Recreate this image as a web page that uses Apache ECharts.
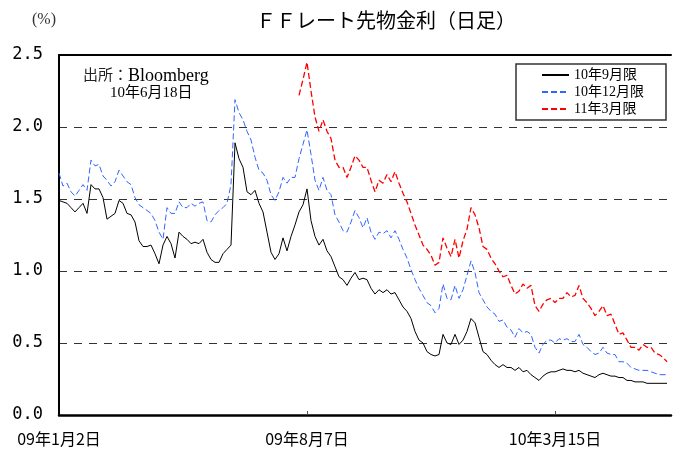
<!DOCTYPE html>
<html>
<head>
<meta charset="utf-8">
<script src="https://cdn.jsdelivr.net/npm/echarts/dist/echarts.min.js"></script>
<style>
  html, body { margin: 0; padding: 0; background: #fff; }
  #chart { width: 673px; height: 449px; }
</style>
</head>
<body>
<div id="chart"></div>
<script>
// x axis: one point every ~2.5 business days, 2009-01-02 .. 2010-06-18
const xTickLabels = ['09年1月2日', '09年8月7日', '10年3月15日'];
const xTickIndex = [0, 62, 124];
const axisLength = 154;
const seriesNames = ['10年9月限', '10年12月限', '11年3月限'];

const sep10 = [
  1.49, 1.48, 1.47, 1.44, 1.41, 1.44, 1.47, 1.40, 1.60, 1.57,
  1.57, 1.51, 1.36, 1.38, 1.40, 1.49, 1.47, 1.40, 1.39, 1.34,
  1.21, 1.17, 1.17, 1.18, 1.12, 1.05, 1.18, 1.24, 1.19, 1.09,
  1.27, 1.24, 1.22, 1.19, 1.20, 1.19, 1.22, 1.13, 1.08, 1.06,
  1.06, 1.12, 1.15, 1.18, 1.89, 1.78, 1.72, 1.55, 1.53, 1.56,
  1.47, 1.41, 1.27, 1.13, 1.08, 1.12, 1.23, 1.14, 1.24, 1.32,
  1.41, 1.46, 1.57, 1.35, 1.24, 1.18, 1.22, 1.14, 1.10, 1.03,
  0.96, 0.94, 0.90, 0.95, 0.99, 0.94, 0.95, 0.94, 0.88, 0.84,
  0.87, 0.85, 0.87, 0.84, 0.85, 0.80, 0.75, 0.72, 0.67, 0.58,
  0.52, 0.50, 0.44, 0.42, 0.41, 0.42, 0.56, 0.50, 0.49, 0.56,
  0.49, 0.52, 0.58, 0.67, 0.64, 0.54, 0.44, 0.42, 0.38, 0.35,
  0.33, 0.35, 0.33, 0.33, 0.31, 0.33, 0.30, 0.31, 0.28, 0.26,
  0.24, 0.27, 0.29, 0.30, 0.30, 0.31, 0.32, 0.31, 0.31, 0.30,
  0.31, 0.29, 0.28, 0.27, 0.26, 0.28, 0.29, 0.28, 0.27, 0.27,
  0.26, 0.26, 0.24, 0.24, 0.23, 0.23, 0.23, 0.22, 0.22, 0.22,
  0.22, 0.22, 0.22
];

const dec10 = [
  1.68, 1.59, 1.61, 1.55, 1.52, 1.56, 1.60, 1.56, 1.77, 1.73,
  1.74, 1.66, 1.63, 1.59, 1.62, 1.70, 1.66, 1.62, 1.60, 1.51,
  1.46, 1.44, 1.42, 1.40, 1.35, 1.27, 1.22, 1.44, 1.40, 1.40,
  1.48, 1.44, 1.44, 1.47, 1.45, 1.47, 1.48, 1.35, 1.34, 1.39,
  1.42, 1.44, 1.47, 1.60, 2.19, 2.10, 2.05, 1.97, 1.91, 1.79,
  1.70, 1.68, 1.63, 1.53, 1.49, 1.55, 1.65, 1.61, 1.65, 1.65,
  1.78, 1.88, 1.98, 1.81, 1.63, 1.56, 1.65, 1.56, 1.53, 1.39,
  1.34, 1.28, 1.27, 1.34, 1.42, 1.37, 1.30, 1.37, 1.27, 1.22,
  1.27, 1.26, 1.28, 1.23, 1.28, 1.22, 1.15, 1.09, 1.01, 0.94,
  0.88, 0.83, 0.78, 0.76, 0.71, 0.74, 0.91, 0.81, 0.80, 0.90,
  0.81, 0.87, 0.97, 1.07, 0.99, 0.85, 0.80, 0.75, 0.72, 0.70,
  0.65, 0.66, 0.61, 0.59, 0.54, 0.60, 0.57, 0.58, 0.56, 0.47,
  0.43, 0.49, 0.52, 0.52, 0.50, 0.53, 0.52, 0.53, 0.51, 0.51,
  0.56, 0.49, 0.47, 0.44, 0.42, 0.43, 0.47, 0.43, 0.42, 0.42,
  0.37, 0.37, 0.36, 0.33, 0.32, 0.31, 0.31, 0.31, 0.30, 0.29,
  0.28, 0.28, 0.28
];

// 11年3月限 only starts trading in August 2009
const mar11Start = 60;
const mar11 = [
  2.22, 2.33, 2.45, 2.25, 2.07, 1.97, 2.05, 1.97, 1.92, 1.77,
  1.72, 1.72, 1.65, 1.72, 1.80, 1.77, 1.72, 1.72, 1.63, 1.55,
  1.63, 1.61, 1.67, 1.62, 1.69, 1.61, 1.54, 1.48, 1.40, 1.32,
  1.25, 1.18, 1.15, 1.11, 1.04, 1.06, 1.23, 1.16, 1.10, 1.22,
  1.09, 1.21, 1.29, 1.44, 1.39, 1.30, 1.17, 1.15, 1.09, 1.05,
  1.00, 0.96, 0.97, 0.90, 0.84, 0.86, 0.91, 0.88, 0.90, 0.76,
  0.72, 0.77, 0.80, 0.81, 0.78, 0.81, 0.81, 0.85, 0.82, 0.83,
  0.90, 0.81, 0.78, 0.74, 0.69, 0.72, 0.76, 0.69, 0.70, 0.63,
  0.56, 0.57, 0.52, 0.47, 0.47, 0.45, 0.49, 0.47, 0.47, 0.43,
  0.42, 0.40, 0.37
];

const serif = '"Liberation Serif", "Noto Sans CJK JP", serif';
const gothic = '"Noto Sans CJK JP", sans-serif';

const categories = Array.from({ length: axisLength }, (_, i) => {
  const k = xTickIndex.indexOf(i);
  return k >= 0 ? xTickLabels[k] : String(i);
});
const isTick = i => xTickIndex.includes(i);

const chart = echarts.init(document.getElementById('chart'));
chart.setOption({
  animation: false,
  backgroundColor: '#fff',
  title: {
    text: 'ＦＦレート先物金利（日足）',
    left: 256,
    top: 10,
    padding: 0,
    textStyle: { fontFamily: gothic, fontSize: 20, fontWeight: 'normal', color: '#000' }
  },
  graphic: [
    { type: 'text', left: 32, top: 12, style: { text: '(%)', font: '16px ' + serif, fill: '#333' } },
    {
      type: 'text', left: 83, top: 67,
      style: {
        text: '{a|出所：}{b|Bloomberg}',
        rich: {
          a: { fontFamily: serif, fontSize: 15, fill: '#222', color: '#222' },
          b: { fontFamily: serif, fontSize: 18, fill: '#000', color: '#000' }
        }
      }
    },
    { type: 'text', left: 110, top: 86, style: { text: '10年6月18日', font: '15px ' + serif, fill: '#000' } }
  ],
  legend: {
    orient: 'vertical',
    left: 516,
    top: 64,
    padding: [4, 22, 4, 25],
    itemGap: 3,
    itemWidth: 27,
    itemHeight: 14,
    borderColor: '#333',
    borderWidth: 1.5,
    backgroundColor: '#fff',
    itemStyle: { opacity: 0 },
    textStyle: { fontFamily: serif, fontSize: 14, color: '#000' },
    data: seriesNames
  },
  grid: { left: 59, right: 2, top: 55, bottom: 34 },
  xAxis: [
    {
      type: 'category',
      data: categories,
      boundaryGap: false,
      axisLine: { lineStyle: { color: '#000', width: 2.5 } },
      axisTick: {
        inside: true,
        length: 4,
        interval: i => i > 0 && isTick(i),
        lineStyle: { color: '#555' }
      },
      axisLabel: {
        interval: i => isTick(i),
        margin: 16,
        fontFamily: gothic,
        fontSize: 16,
        color: '#000'
      },
      splitLine: { show: false }
    },
    {
      type: 'category',
      data: categories,
      position: 'top',
      boundaryGap: false,
      axisLine: { onZero: false, lineStyle: { color: '#000', width: 2 } },
      axisTick: { show: false },
      axisLabel: { show: false },
      splitLine: { show: false }
    }
  ],
  yAxis: {
    type: 'value',
    min: 0,
    max: 2.5,
    interval: 0.5,
    axisLine: { show: true, lineStyle: { color: '#000', width: 2 } },
    axisTick: { show: false },
    axisLabel: {
      formatter: v => v.toFixed(1),
      margin: 16,
      fontFamily: '"DejaVu Sans Mono", monospace',
      fontSize: 17,
      color: '#000'
    },
    splitLine: { lineStyle: { type: [8, 7], color: '#333', width: 1 } }
  },
  series: [
    {
      name: seriesNames[0],
      type: 'line',
      data: sep10,
      symbol: 'none',
      itemStyle: { color: '#000' },
      lineStyle: { color: '#000', width: 1 }
    },
    {
      name: seriesNames[1],
      type: 'line',
      data: dec10,
      symbol: 'none',
      itemStyle: { color: '#2f66ff' },
      lineStyle: { color: '#2f66ff', width: 1, type: [6, 3] }
    },
    {
      name: seriesNames[2],
      type: 'line',
      data: Array(mar11Start).fill(null).concat(mar11),
      symbol: 'none',
      itemStyle: { color: '#ff0000' },
      lineStyle: { color: '#ff0000', width: 1.3, type: [6, 3] }
    }
  ]
});
</script>
</body>
</html>
